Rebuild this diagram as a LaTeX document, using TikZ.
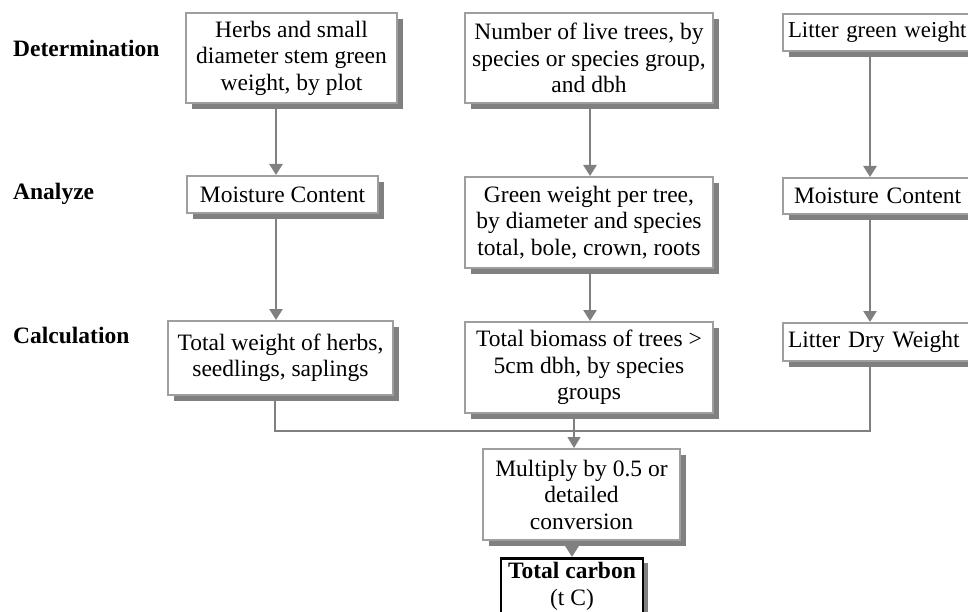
\documentclass[tikz,border=0pt]{standalone}
\usepackage{fontspec}
\setmainfont{Liberation Serif}
\usetikzlibrary{arrows.meta,shadows}
\definecolor{boxgray}{rgb}{0.62,0.62,0.62}
\definecolor{shadowgray}{rgb}{0.5,0.5,0.5}
\definecolor{arrowgray}{rgb}{0.5,0.5,0.5}
\newcommand\bxfont{\fontsize{23.5}{26.5}\selectfont}
\tikzset{
  box/.style={draw=boxgray, line width=2pt, fill=white, align=center,
    inner sep=1pt, font=\bxfont,
    drop shadow={shadow xshift=6pt, shadow yshift=-6pt, fill=shadowgray, opacity=1}},
  cbox/.style={box, anchor=north west, minimum width=215pt, text width=205pt,
    align=left, inner xsep=3pt},
  totbox/.style={draw=black, line width=2.5pt, fill=white, align=center,
    inner xsep=3pt, inner ysep=4pt, font=\bxfont, minimum width=142pt,
    drop shadow={shadow xshift=5pt, shadow yshift=-5pt, fill=shadowgray, opacity=1}},
  stage/.style={anchor=base west, font=\bxfont\bfseries, inner sep=0pt},
  flow/.style={draw=arrowgray, line width=2.5pt, -{Triangle[width=13pt,length=11pt]}},
  thinflow/.style={draw=arrowgray, line width=1.2pt, -{Triangle[width=13pt,length=11pt]}},
  thinline/.style={draw=arrowgray, line width=1.2pt}
}
\begin{document}
\begin{tikzpicture}[x=1pt,y=1pt]
\useasboundingbox (0,0) rectangle (968,-612);
\clip (0,0) rectangle (968,-612);
\fill[white] (0,0) rectangle (968,-612);

% column positions
\coordinate (colA) at (276,0);
\coordinate (colB) at (590,0);
\coordinate (colC) at (870,0);
\coordinate (colM) at (574,0);

% stage labels
\node[stage] (lDet) at (13,-57) {Determination};
\node[stage] (lAna) at (13,-200) {Analyze};
\node[stage] (lCal) at (13,-343) {Calculation};

% row 1
\node[box, minimum width=211pt, minimum height=90pt] (A1) at (291.5,-58)
  {Herbs and small\\diameter stem green\\weight, by plot};
\node[box, minimum width=248pt, minimum height=90pt] (B1) at (589,-58)
  {Number of live trees, by\\species or species group,\\and dbh};
\node[cbox, minimum height=37pt, inner xsep=2pt, font=\fontsize{22.8}{26.5}\selectfont] (C1) at (782,-13) {Litter green weight};

% row 2
\node[box, minimum width=191pt, minimum height=37pt] (A2) at (282.5,-194.5)
  {Moisture Content};
\node[box, minimum width=248pt, minimum height=91pt] (B2) at (589,-222.5)
  {Green weight per tree,\\by diameter and species\\total, bole, crown, roots};
\node[cbox, minimum height=36pt, inner xsep=11pt] (C2) at (782,-177) {Moisture Content};

% row 3
\node[box, minimum width=225pt, minimum height=74pt] (A3) at (280.5,-358)
  {Total weight of herbs,\\seedlings, saplings};
\node[box, minimum width=248pt, minimum height=91pt] (B3) at (589,-367.5)
  {Total biomass of trees >\\5cm dbh, by species\\groups};
\node[cbox, minimum height=38pt] (C3) at (782,-322) {Litter Dry Weight};

% bottom
\node[box, minimum width=197pt, minimum height=91pt] (M) at (581.5,-494.5)
  {Multiply by 0.5 or\\detailed\\conversion};
\node[totbox, anchor=north] (T) at (572,-557)
  {\textbf{Total carbon}\\(t C)};

% connectors
\draw[flow] (A1.south -| colA) -- (A2.north -| colA);
\draw[flow] (A2.south -| colA) -- (A3.north -| colA);
\draw[flow] (B1.south -| colB) -- (B2.north -| colB);
\draw[flow] (B2.south -| colB) -- (B3.north -| colB);
\draw[flow] (C1.south -| colC) -- (C2.north -| colC);
\draw[flow] (C2.south -| colC) -- (C3.north -| colC);

\coordinate (hl) at (275,-431);
\coordinate (hr) at (870,-431);
\draw[thinline] (A3.south -| hl) -- (hl) -- (hr) -- (C3.south -| hr);
\draw[thinflow] (B3.south -| colM) -- (M.north -| colM);
\draw[flow] (M.south -| T.north) -- (T.north);
\end{tikzpicture}
\end{document}
